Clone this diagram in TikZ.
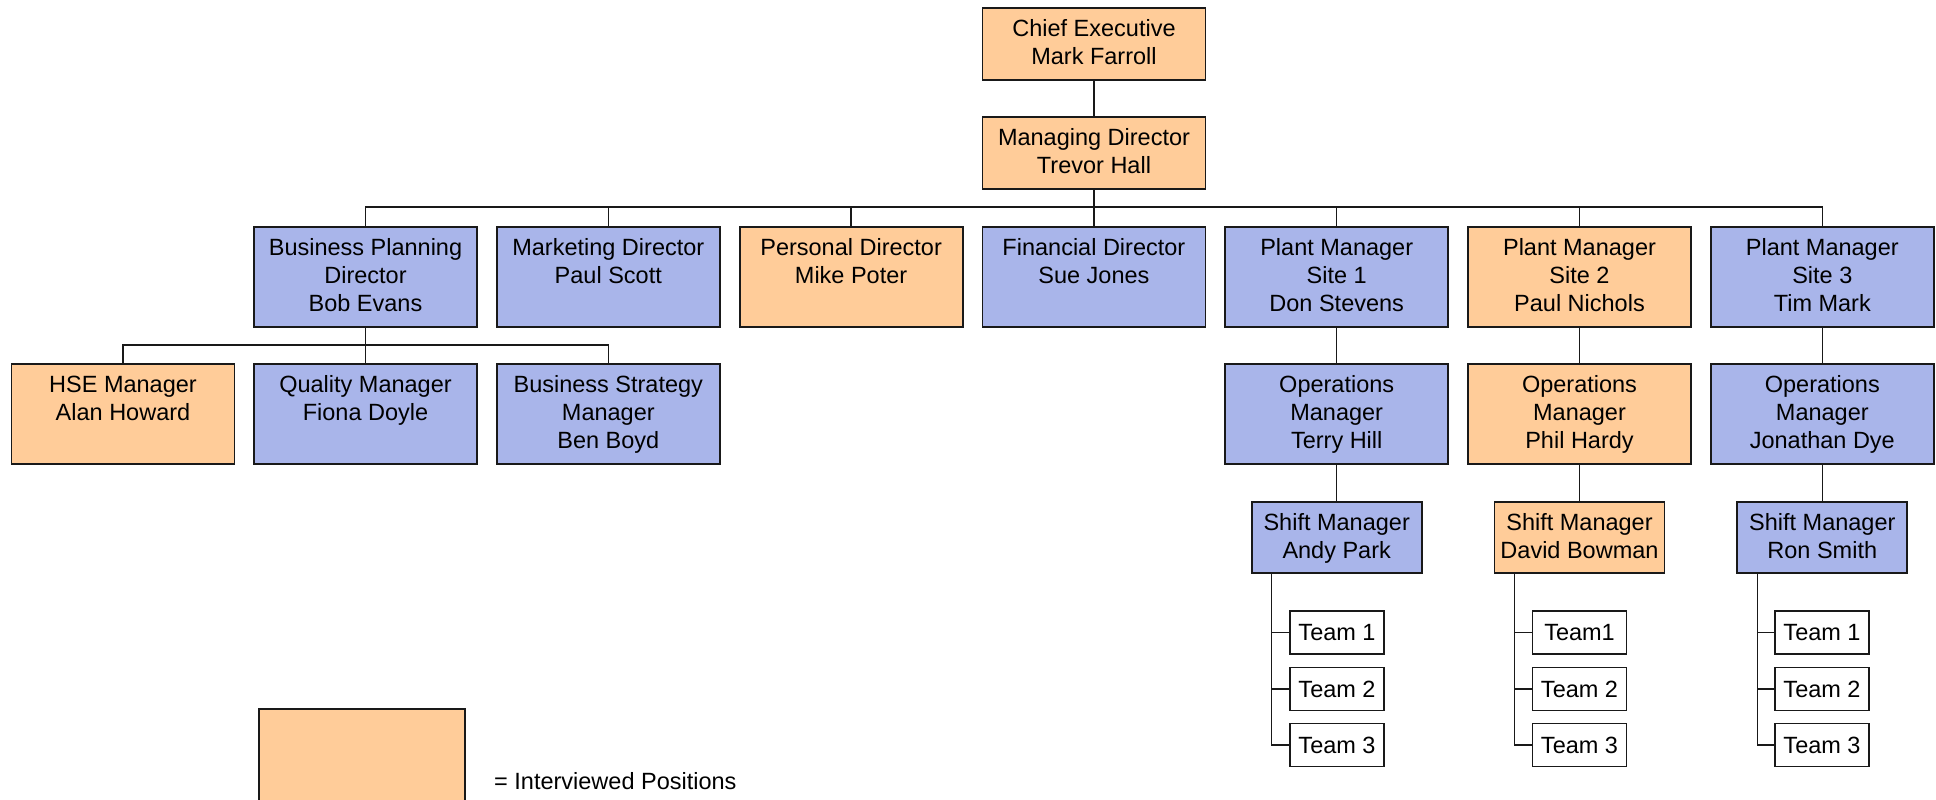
\documentclass[tikz,border=0pt]{standalone}
\usepackage{fontspec}
\setmainfont{Liberation Sans}
\usetikzlibrary{calc}

\definecolor{interv}{RGB}{255,204,153}
\definecolor{staff}{RGB}{169,181,234}
\definecolor{edge}{RGB}{25,25,25}

\tikzset{
  box/.style={draw=edge, line width=1.8pt, inner sep=0pt, outer sep=0pt,
              minimum width=223pt, anchor=north},
  boxtext/.style={anchor=north, inner sep=0pt, align=center,
                  font=\fontsize{23.5}{28}\selectfont},
  teambox/.style={draw=edge, fill=white, line width=1.8pt, inner sep=0pt, outer sep=0pt,
                  minimum width=94pt, minimum height=43pt,
                  font=\fontsize{23.5}{28}\selectfont},
  link/.style={draw=edge, line width=1.5pt},
}

% name, centre x, top y, height, fill, text
\newcommand\orgnode[6]{%
  \node[box, fill=#5, minimum height=#4pt] (#1) at (#2,#3) {};
  \node[boxtext] (#1-text) at ([yshift=-8pt]#1.north) {\rule{0pt}{20pt}#6};
}

\begin{document}
\begin{tikzpicture}[x=1pt, y=-1pt]
  \useasboundingbox (0,0) rectangle (1936,800);

  % top of the hierarchy
  \orgnode{ceo}{1094}{8}{72}{interv}{Chief Executive\\Mark Farroll}
  \orgnode{md}{1094}{117}{72}{interv}{Managing Director\\Trevor Hall}

  % directors and plant managers
  \orgnode{bpd}{365.5}{227}{100}{staff}{Business Planning\\Director\\Bob Evans}
  \orgnode{mkd}{608.3}{227}{100}{staff}{Marketing Director\\Paul Scott}
  \orgnode{psd}{851.1}{227}{100}{interv}{Personal Director\\Mike Poter}
  \orgnode{fnd}{1093.9}{227}{100}{staff}{Financial Director\\Sue Jones}
  \orgnode{pm1}{1336.7}{227}{100}{staff}{Plant Manager\\Site 1\\Don Stevens}
  \orgnode{pm2}{1579.5}{227}{100}{interv}{Plant Manager\\Site 2\\Paul Nichols}
  \orgnode{pm3}{1822.3}{227}{100}{staff}{Plant Manager\\Site 3\\Tim Mark}

  % business planning reports
  \orgnode{hse}{123}{364}{100}{interv}{HSE Manager\\Alan Howard}
  \orgnode{qm}{365.5}{364}{100}{staff}{Quality Manager\\Fiona Doyle}
  \orgnode{bsm}{608.3}{364}{100}{staff}{Business Strategy\\Manager\\Ben Boyd}

  % operations managers
  \orgnode{om1}{1336.7}{364}{100}{staff}{Operations\\Manager\\Terry Hill}
  \orgnode{om2}{1579.5}{364}{100}{interv}{Operations\\Manager\\Phil Hardy}
  \orgnode{om3}{1822.3}{364}{100}{staff}{Operations\\Manager\\Jonathan Dye}

  % shift managers
  \tikzset{box/.append style={minimum width=170pt}}
  \orgnode{sm1}{1336.7}{502}{71}{staff}{Shift Manager\\Andy Park}
  \orgnode{sm2}{1579.5}{502}{71}{interv}{Shift Manager\\David Bowman}
  \orgnode{sm3}{1822.3}{502}{71}{staff}{Shift Manager\\Ron Smith}

  % teams
  \node[teambox] (t11) at (1337,632.5) {Team 1};
  \node[teambox] (t12) at (1337,689) {Team 2};
  \node[teambox] (t13) at (1337,745) {Team 3};
  \node[teambox] (t21) at (1579.5,632.5) {Team1};
  \node[teambox] (t22) at (1579.5,689) {Team 2};
  \node[teambox] (t23) at (1579.5,745) {Team 3};
  \node[teambox] (t31) at (1822,632.5) {Team 1};
  \node[teambox] (t32) at (1822,689) {Team 2};
  \node[teambox] (t33) at (1822,745) {Team 3};

  % reporting lines
  \coordinate (bus) at (1094,207);
  \coordinate (bus2) at (365.5,345);
  \draw[link] (ceo.south) -- (md.south |- md.north);
  \draw[link] (md.south) -- (bus);
  \foreach \n in {bpd,mkd,psd,fnd,pm1,pm2,pm3}
    \draw[link] (\n.north) |- (bus);
  \draw[link] (bpd.south) -- (qm.north);
  \draw[link] (hse.north) |- (bus2);
  \draw[link] (bsm.north) |- (bus2);
  \foreach \i in {1,2,3} {
    \draw[link] (pm\i.south) -- (om\i.north);
    \draw[link] (om\i.south) -- (om\i.south |- sm\i.north);
    \foreach \j in {1,2,3}
      \draw[link] (t\i\j.west) -| ([xshift=20pt]sm\i.south west);
  }

  % legend
  \node[fill=interv, inner sep=0pt, outer sep=0pt, minimum width=206pt,
        minimum height=92pt, anchor=north west] (key) at (259,709) {};
  \draw[link, line width=1.8pt] (key.south west) -- (key.north west)
        -- (key.north east) -- (key.south east);
  \node[anchor=base west, inner sep=0pt, font=\fontsize{23.5}{28}\selectfont]
        (keytext) at (494,789) {= Interviewed Positions};
\end{tikzpicture}
\end{document}
